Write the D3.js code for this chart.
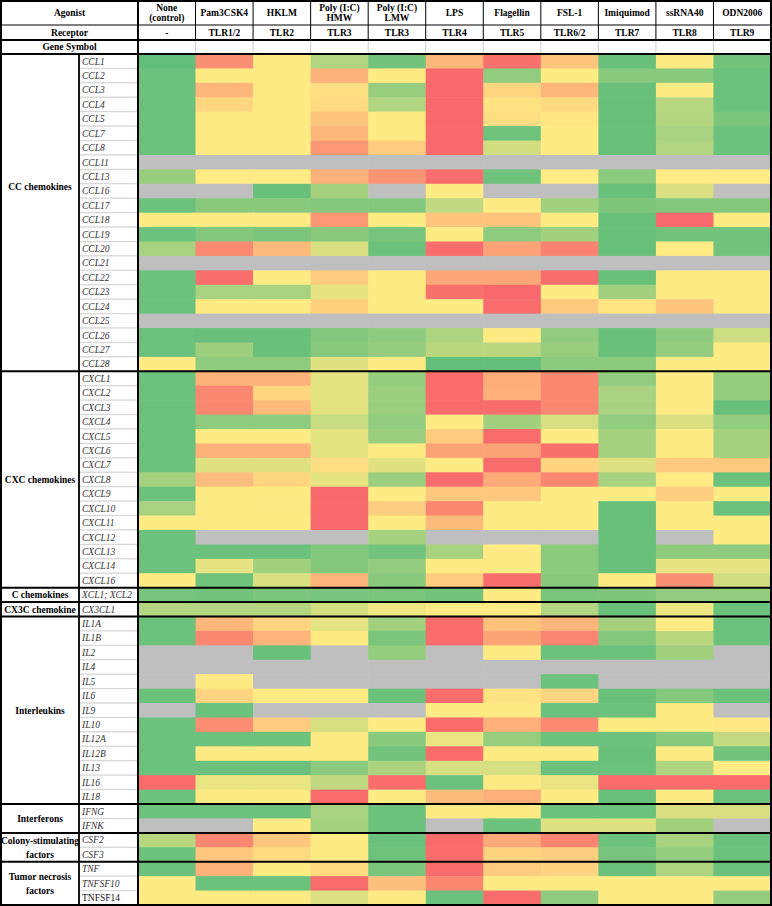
<!DOCTYPE html>
<html>
<head>
<meta charset="utf-8">
<script src="https://cdn.jsdelivr.net/npm/d3@7"></script>
<style>
  body { margin: 0; background: #fff; }
  text { font-family: "Liberation Serif", "Times New Roman", serif; }
</style>
</head>
<body>
<script>
// column headers
var agonists = ["None\n(control)", "Pam3CSK4", "HKLM", "Poly (I:C)\nHMW", "Poly (I:C)\nLMW",
                "LPS", "Flagellin", "FSL-1", "Imiquimod", "ssRNA40", "ODN2006"];
var receptors = ["-", "TLR1/2", "TLR2", "TLR3", "TLR3", "TLR4", "TLR5", "TLR6/2", "TLR7", "TLR8", "TLR9"];

// row groups
var sections = ["CC chemokines", "CXC chemokines", "C chemokines", "CX3C chemokine", "Interleukins",
                "Interferons", "Colony-stimulating\nfactors", "Tumor necrosis\nfactors"];
var sectionSizes = [22, 15, 1, 1, 13, 2, 2, 3];

var genes = ["CCL1", "CCL2", "CCL3", "CCL4", "CCL5", "CCL7", "CCL8", "CCL11", "CCL13", "CCL16", "CCL17",
             "CCL18", "CCL19", "CCL20", "CCL21", "CCL22", "CCL23", "CCL24", "CCL25", "CCL26", "CCL27", "CCL28",
             "CXCL1", "CXCL2", "CXCL3", "CXCL4", "CXCL5", "CXCL6", "CXCL7", "CXCL8", "CXCL9", "CXCL10",
             "CXCL11", "CXCL12", "CXCL13", "CXCL14", "CXCL16",
             "XCL1; XCL2", "CX3CL1",
             "IL1A", "IL1B", "IL2", "IL4", "IL5", "IL6", "IL9", "IL10", "IL12A", "IL12B", "IL13", "IL16", "IL18",
             "IFNG", "IFNK", "CSF2", "CSF3", "TNF", "TNFSF10", "TNFSF14"];

// colour-scale position per cell: 0 = red, 50 = yellow, 100 = green, null = no data (grey)
var N = null;
var values = [
  [100, 15, 50, 75, 95, 30, 3, 35, 98, 50, 95],   // CCL1
  [97, 50, 50, 28, 50, 0, 85, 50, 88, 88, 97],    // CCL2
  [97, 30, 50, 45, 83, 0, 42, 30, 98, 50, 97],    // CCL3
  [97, 42, 50, 44, 75, 0, 47, 43, 98, 73, 97],    // CCL4
  [97, 50, 50, 35, 50, 0, 45, 48, 98, 74, 92],    // CCL5
  [97, 50, 50, 30, 50, 0, 96, 50, 98, 78, 97],    // CCL7
  [97, 50, 50, 18, 38, 0, 65, 50, 98, 75, 97],    // CCL8
  [N, N, N, N, N, N, N, N, N, N, N],              // CCL11
  [83, 50, 50, 28, 17, 2, 96, 50, 87, 50, 50],    // CCL13
  [N, N, 98, 79, N, 50, N, N, 98, 62, N],         // CCL16
  [97, 88, 88, 89, 90, 70, 50, 80, 91, 90, 90],   // CCL17
  [50, 50, 50, 18, 50, 35, 35, 50, 98, 0, 50],    // CCL18
  [97, 90, 92, 88, 93, 50, 86, 80, 98, 95, 95],   // CCL19
  [78, 13, 31, 62, 97, 2, 22, 10, 98, 50, 95],    // CCL20
  [N, N, N, N, N, N, N, N, N, N, N],              // CCL21
  [97, 2, 50, 38, 50, 24, 24, 2, 98, 50, 50],     // CCL22
  [97, 78, 78, 58, 50, 3, 0, 50, 80, 50, 50],     // CCL23
  [97, 50, 50, 40, 50, 50, 1, 37, 48, 35, 50],    // CCL24
  [N, N, N, N, N, N, N, N, N, N, N],              // CCL25
  [97, 98, 98, 90, 86, 76, 50, 85, 98, 86, 66],   // CCL26
  [97, 81, 98, 88, 84, 72, 72, 83, 98, 84, 50],   // CCL27
  [50, 86, 86, 60, 50, 100, 100, 87, 87, 50, 50], // CCL28
  [97, 28, 28, 59, 84, 1, 26, 12, 85, 50, 84],    // CXCL1
  [97, 12, 42, 59, 82, 1, 27, 12, 78, 50, 84],    // CXCL2
  [97, 12, 31, 59, 82, 1, 2, 12, 78, 50, 98],     // CXCL3
  [97, 86, 86, 68, 85, 50, 80, 63, 85, 62, 85],   // CXCL4
  [97, 50, 50, 59, 82, 38, 1, 50, 79, 50, 79],    // CXCL5
  [97, 28, 28, 59, 50, 22, 22, 3, 79, 50, 79],    // CXCL6
  [97, 60, 60, 45, 60, 50, 1, 41, 61, 37, 37],    // CXCL7
  [79, 32, 42, 58, 82, 1, 25, 12, 78, 50, 97],    // CXCL8
  [97, 50, 50, 0, 50, 36, 36, 50, 50, 39, 50],    // CXCL9
  [78, 50, 51, 0, 39, 12, 50, 50, 98, 50, 97],    // CXCL10
  [50, 50, 50, 0, 50, 31, 50, 50, 98, 50, 50],    // CXCL11
  [97, N, N, N, 79, N, N, N, 98, N, 50],          // CXCL12
  [97, 97, 97, 90, 95, 78, 50, 87, 98, 86, 86],   // CXCL13
  [97, 58, 80, 89, 85, 50, 50, 87, 98, 58, 58],   // CXCL14
  [50, 96, 62, 29, 88, 38, 2, 88, 50, 15, 65],    // CXCL16
  [93, 95, 92, 93, 92, 95, 50, 92, 91, 85, 85],   // XCL1; XCL2
  [74, 74, 74, 64, 55, 50, 50, 75, 98, 56, 97],   // CX3CL1
  [97, 30, 41, 58, 80, 1, 34, 29, 79, 50, 97],    // IL1A
  [97, 12, 29, 50, 92, 1, 23, 11, 89, 72, 97],    // IL1B
  [N, N, 98, N, 84, N, 50, 97, 97, 80, N],        // IL2
  [N, N, N, N, N, N, N, N, N, N, N],              // IL4
  [N, 50, N, N, N, N, N, 97, N, N, N],            // IL5
  [97, 41, 50, 50, 97, 1, 47, 41, 98, 89, 97],    // IL6
  [N, 97, N, N, N, 50, 50, 97, 97, 50, N],        // IL9
  [97, 14, 38, 63, 50, 1, 27, 13, 50, 50, 49],    // IL10
  [97, 97, 97, 50, 88, 57, 83, 97, 97, 88, 69],   // IL12A
  [97, 50, 50, 50, 95, 1, 50, 50, 98, 50, 95],    // IL12B
  [97, 97, 97, 87, 77, 63, 63, 97, 97, 76, 50],   // IL13
  [1, 57, 57, 70, 1, 97, 50, 57, 1, 1, 1],        // IL16
  [97, 50, 50, 1, 50, 32, 27, 50, 98, 50, 97],    // IL18
  [97, 97, 97, 78, 97, 50, 50, 97, 97, 62, 62],   // IFNG
  [N, N, 50, 79, 97, N, 97, 61, 61, 80, N],       // IFNK
  [73, 12, 36, 50, 97, 1, 25, 11, 97, 78, 97],    // CSF2
  [97, 36, 44, 50, 96, 1, 41, 39, 93, 84, 97],    // CSF3
  [97, 28, 50, 44, 92, 1, 38, 41, 97, 76, 97],    // TNF
  [50, 97, 97, 1, 33, 12, 50, 50, 50, 50, 50],    // TNFSF10
  [50, 50, 50, 61, 50, 97, 1, 86, 50, 50, 84]     // TNFSF14
];

var width = 772, height = 906;
var catX = 1, geneX = 79, dataX = 138, right = 771;
var headY = [1, 25, 40, 54], bottom = 905;

var svg = d3.select("body").append("svg")
    .attr("width", width)
    .attr("height", height);

var x = d3.scaleBand().domain(d3.range(agonists.length)).range([dataX, right]);
var y = d3.scaleBand().domain(genes).range([headY[3], bottom]);
var color = d3.scaleLinear().domain([0, 50, 100]).range(["#F8696B", "#FFEB84", "#63BE7B"]);

// heatmap cells
var cells = [];
values.forEach(function(row, i) {
    row.forEach(function(v, j) { cells.push({gene: genes[i], col: j, v: v}); });
});
svg.append("g").selectAll("rect")
    .data(cells)
    .enter().append("rect")
    .attr("x", function(d) { return x(d.col); })
    .attr("y", function(d) { return y(d.gene); })
    .attr("width", x.bandwidth() + 0.6)
    .attr("height", y.bandwidth() + 0.6)
    .attr("fill", function(d) { return d.v === null ? "#BFBFBF" : color(d.v); });

// gene symbol column
var geneG = svg.append("g");
geneG.selectAll("rect")
    .data(genes)
    .enter().append("rect")
    .attr("x", geneX)
    .attr("y", function(d) { return y(d); })
    .attr("width", dataX - geneX)
    .attr("height", y.bandwidth())
    .attr("fill", "#fff")
    .attr("stroke", "#d4d4d4")
    .attr("stroke-width", 1);
geneG.selectAll("text")
    .data(genes)
    .enter().append("text")
    .attr("x", geneX + 3)
    .attr("y", function(d) { return y(d) + y.bandwidth() / 2; })
    .attr("dy", "0.35em")
    .style("font-size", "9.5px")
    .style("font-style", function(d) { return d === "TNFSF14" ? "normal" : "italic"; })
    .style("fill", function(d) { return d === "TNFSF14" ? "#111" : "#333"; })
    .text(function(d) { return d; });

// section labels and separators
var start = 0;
var secs = sections.map(function(name, k) {
    var s = {name: name, first: genes[start], last: genes[start + sectionSizes[k] - 1]};
    start += sectionSizes[k];
    return s;
});

function multiline(sel, lines, lh, fs) {
    lines.forEach(function(t, i) {
        sel.append("tspan")
            .attr("x", sel.attr("x"))
            .attr("dy", i === 0 ? (-(lines.length - 1) / 2 * lh + 0.35 * fs) + "px" : lh + "px")
            .text(t);
    });
}

secs.forEach(function(s, k) {
    var top = y(s.first), bot = y(s.last) + y.bandwidth();
    var cy = (top + bot) / 2;
    if (k === 0) cy = y("CCL16") + y.bandwidth() / 2 - 4;
    var t = svg.append("text")
        .attr("x", (catX + geneX) / 2)
        .attr("y", cy)
        .attr("text-anchor", "middle")
        .style("font-size", "9.5px")
        .style("font-weight", "bold")
        .style("fill", "#000");
    multiline(t, s.name.split("\n"), 14, 9.5);
    if (k > 0) {
        svg.append("line")
            .attr("x1", catX).attr("x2", right)
            .attr("y1", top).attr("y2", top)
            .attr("stroke", "#000").attr("stroke-width", 2);
    }
});

// header
var head = svg.append("g");
head.append("rect")
    .attr("x", catX).attr("y", headY[0])
    .attr("width", right - catX).attr("height", headY[3] - headY[0])
    .attr("fill", "#fff");

var headRows = [
    {label: "Agonist", texts: agonists, y0: headY[0], y1: headY[1], sep: "#000"},
    {label: "Receptor", texts: receptors, y0: headY[1], y1: headY[2], sep: "#000"},
    {label: "Gene Symbol", texts: agonists.map(function() { return ""; }), y0: headY[2], y1: headY[3], sep: "#cfcfcf"}
];
headRows.forEach(function(r) {
    var cy = (r.y0 + r.y1) / 2;
    var t = head.append("text")
        .attr("x", (catX + dataX) / 2)
        .attr("y", cy)
        .attr("text-anchor", "middle")
        .style("font-size", "9.5px")
        .style("font-weight", "bold");
    multiline(t, [r.label], 10, 9.5);
    r.texts.forEach(function(txt, j) {
        if (j > 0) {
            head.append("line")
                .attr("x1", x(j)).attr("x2", x(j))
                .attr("y1", r.y0).attr("y2", r.y1)
                .attr("stroke", r.sep).attr("stroke-width", 1);
        }
        if (!txt) return;
        var tt = head.append("text")
            .attr("x", x(j) + x.bandwidth() / 2)
            .attr("y", cy)
            .attr("text-anchor", "middle")
            .style("font-size", "9.5px")
            .style("font-weight", "bold");
        multiline(tt, txt.split("\n"), 10, 9.5);
    });
});

// header horizontal rules
head.append("line").attr("x1", catX).attr("x2", right).attr("y1", headY[1]).attr("y2", headY[1])
    .attr("stroke", "#000").attr("stroke-width", 1.2);
head.append("line").attr("x1", catX).attr("x2", right).attr("y1", headY[2]).attr("y2", headY[2])
    .attr("stroke", "#000").attr("stroke-width", 1.8);
head.append("line").attr("x1", catX).attr("x2", right).attr("y1", headY[3]).attr("y2", headY[3])
    .attr("stroke", "#000").attr("stroke-width", 2);

// vertical rules
svg.append("line").attr("x1", geneX).attr("x2", geneX).attr("y1", headY[3]).attr("y2", bottom)
    .attr("stroke", "#000").attr("stroke-width", 1.8);
svg.append("line").attr("x1", dataX).attr("x2", dataX).attr("y1", headY[0]).attr("y2", bottom)
    .attr("stroke", "#000").attr("stroke-width", 2);

// outer frame
svg.append("rect")
    .attr("x", catX).attr("y", headY[0])
    .attr("width", right - catX).attr("height", bottom - headY[0])
    .attr("fill", "none")
    .attr("stroke", "#000")
    .attr("stroke-width", 2);
</script>
</body>
</html>
